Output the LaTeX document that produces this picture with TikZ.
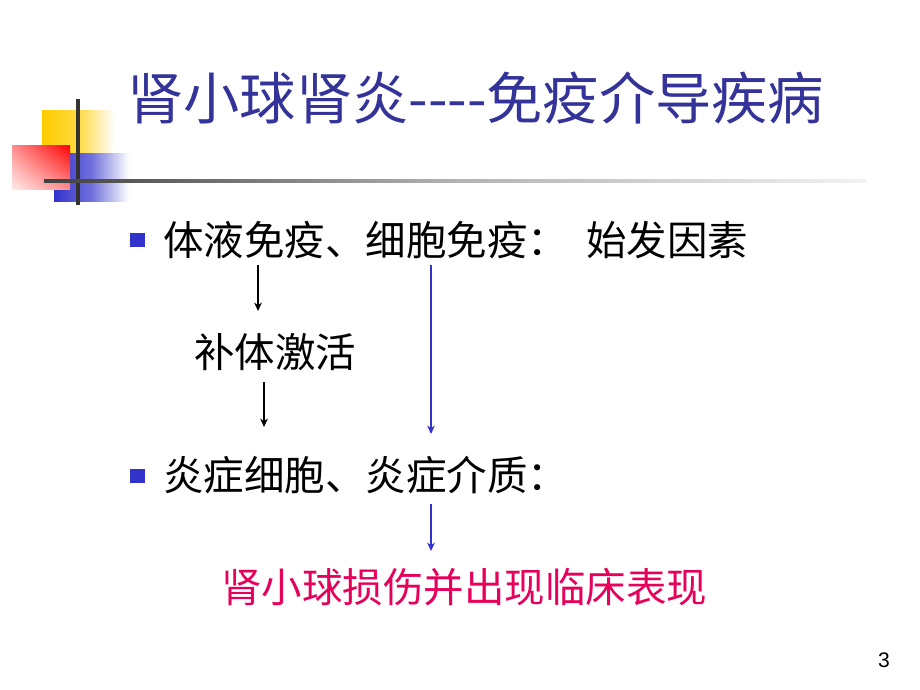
\documentclass[tikz,border=0pt]{standalone}
\usepackage{fontspec}
\setmainfont{Noto Sans CJK SC}
\newfontfamily\numfont{Liberation Sans}
\usetikzlibrary{arrows.meta,shadings}
\definecolor{titleblue}{RGB}{51,51,153}
\definecolor{bulletblue}{RGB}{51,51,204}
\definecolor{arrowblue}{RGB}{51,51,204}
\definecolor{lesionred}{RGB}{230,0,90}
\definecolor{decoyellow}{RGB}{255,204,0}

\begin{document}
\begin{tikzpicture}[x=0.025cm,y=-0.025cm]
      \useasboundingbox (0,0) rectangle (920,690);
      \tikzstyle{title} = [anchor=west, inner sep=0pt, text=titleblue, font=\fontsize{40}{40}\selectfont]
      \tikzstyle{body} = [anchor=west, inner sep=0pt, font=\fontsize{28.8}{28.8}\selectfont]
      \tikzstyle{bullet} = [fill=bulletblue, minimum size=0.35cm, inner sep=0pt]
      \tikzstyle{blackarr} = [line width=2.1pt, draw=black, -{Stealth[length=6pt,width=5.5pt]}]
      \tikzstyle{bluearr} = [line width=2.1pt, draw=arrowblue, -{Stealth[length=6pt,width=5.5pt]}]
      % corner decoration
      \shade[left color=decoyellow, right color=white, middle color=decoyellow!75!white] (42,110) rectangle (114,153);
      \shade[left color=bulletblue, right color=white, middle color=bulletblue!70!white] (54,153) rectangle (129,201);
      \shade[upper right=red, lower left=red!8, upper left=red!45, lower right=red!45] (12,145) rectangle (70,189);
      \draw[line width=2.2pt, black!80] (78,99) -- (78,205);
      \shade[left color=black!75, right color=black!5, middle color=black!30] (44,179.5) rectangle (866,182.5);
      % title
      \node[title] (ttl) at (127,98) {肾小球肾炎-{}-{}-{}-免疫介导疾病};
      % bullets
      \node[bullet] (b1) at (137.5,240) {};
      \node[bullet] (b2) at (137.5,476) {};
      \node[body] (imm) at (163,240) {体液免疫、细胞免疫：\hspace{0.45em}始发因素};
      \node[body] (comp) at (194,352) {补体激活};
      \node[body] (infl) at (163,475) {炎症细胞、炎症介质：};
      \node[body, text=lesionred] (dmg) at (221,587) {肾小球损伤并出现临床表现};
      \node[inner sep=0pt, font=\numfont\fontsize{15}{15}\selectfont] (pg) at (884,660) {3};
      % arrows
      \coordinate (a1s) at (258,265);
      \coordinate (a1e) at (258,311);
      \coordinate (a2s) at (264,382);
      \coordinate (a2e) at (264,427);
      \coordinate (a3s) at (431,265);
      \coordinate (a3e) at (431,434);
      \coordinate (a4s) at (431,504);
      \coordinate (a4e) at (431,551);
      \draw[blackarr] (a1s) -- (a1e);
      \draw[blackarr] (a2s) -- (a2e);
      \draw[bluearr] (a3s) -- (a3e);
      \draw[bluearr] (a4s) -- (a4e);
    \end{tikzpicture}
\end{document}
